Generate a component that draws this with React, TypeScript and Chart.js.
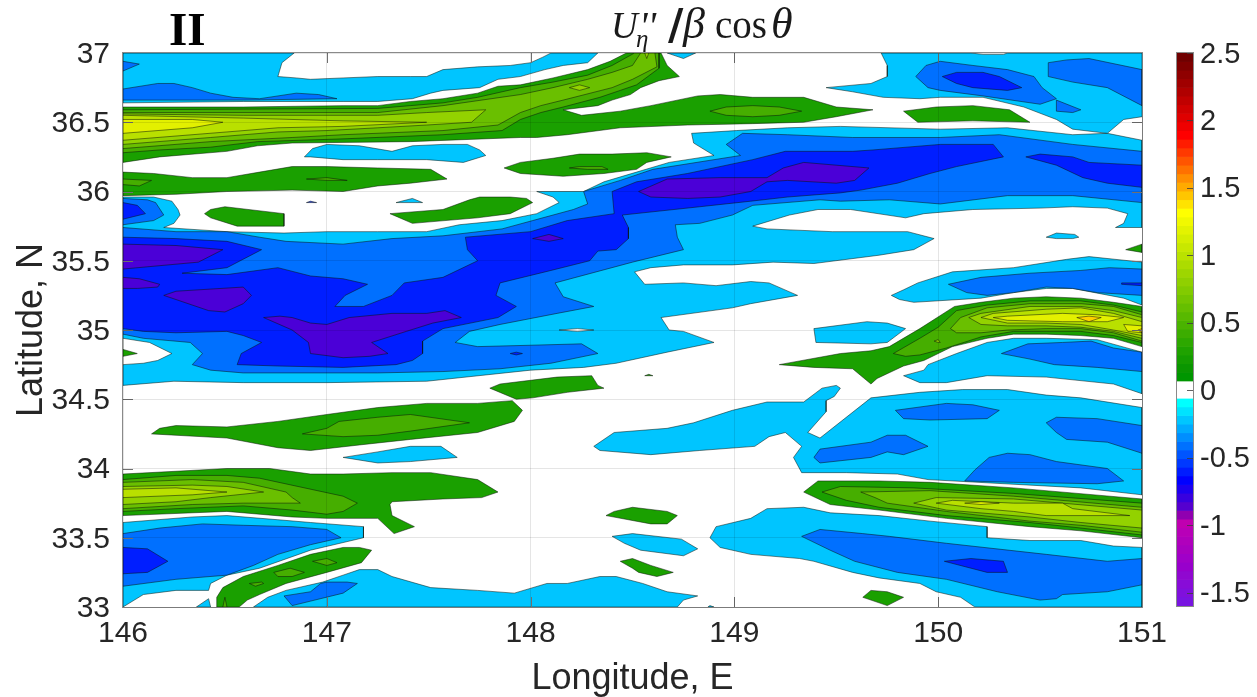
import React, { useEffect, useRef } from "react";
import { Chart, registerables } from "chart.js";

Chart.register(...registerables);

type Ring = number[][];

const lonTicks = [146, 147, 148, 149, 150, 151];
const latTicks = [33, 33.5, 34, 34.5, 35, 35.5, 36, 36.5, 37];
const colorbarTicks = [-1.5, -1, -0.5, 0, 0.5, 1, 1.5, 2, 2.5];
const colorbarEdges = [2.5,2.436,2.372,2.308,2.244,2.18,2.116,2.052,1.988,1.924,1.86,1.796,1.732,1.668,1.604,1.54,1.476,1.412,1.348,1.284,1.22,1.156,1.092,1.028,0.964,0.9,0.836,0.772,0.708,0.644,0.58,0.516,0.452,0.388,0.324,0.26,0.196,0.132,0.068,0.004,-0.06,-0.124,-0.188,-0.252,-0.316,-0.38,-0.444,-0.508,-0.572,-0.636,-0.7,-0.764,-0.828,-0.892,-0.956,-1.02,-1.084,-1.148,-1.212,-1.276,-1.34,-1.404,-1.468,-1.532,-1.6];
const colorbarColors = ["#700000","#7f0000","#8f0000","#a00000","#b00000","#c00000","#d00000","#df0000","#ef0000","#ff0000","#ff1c00","#ff3900","#ff5500","#ff7100","#ff8e00","#ffaa00","#ffc600","#ffe300","#ffff00","#f1f900","#e3f300","#d5ee00","#c8e800","#bae200","#acdc00","#9ed600","#90d000","#82cb00","#74c500","#66bf00","#58b900","#4ab300","#3cad00","#2da800","#1fa200","#149c00","#0a9600","#009600","#ffffff","#ffffff","#00ffff","#00e3ff","#00c6ff","#00aaff","#008eff","#0071ff","#0055ff","#0039ff","#001cff","#0000ff","#1c00ef","#3800df","#5500cf","#9000b0","#c000b0","#b800b8","#b000bc","#a800c0","#a000c8","#9800cc","#9008d0","#880cd8","#8010dc","#7814e0"];

const colorLightBlue = "#00c5ff";
const colorMidBlue = "#0070ff";
const colorDeepBlue = "#001eff";
const colorPurple = "#4b00d7";
const colorGreens = ["#1aa000", "#46ae00", "#6abf00", "#93d200", "#b9e000", "#e3f000", "#ffd000"];

const lightBlueRegions: Ring[] = [
  [[146,37],[146.84,37],[146.78,36.93],[146.76,36.83],[146.85,36.82],[146.92,36.81],[147.08,36.82],[147.25,36.83],[147.41,36.83],[147.49,36.83],[147.57,36.88],[147.74,36.9],[147.9,36.91],[148,36.93],[148.06,36.97],[148.1,37],[148.33,37],[148.28,36.93],[148.16,36.91],[148.07,36.88],[147.95,36.83],[147.84,36.81],[147.75,36.75],[147.57,36.73],[147.51,36.71],[147.42,36.67],[147.25,36.65],[147.08,36.65],[146.59,36.65],[146,36.64]],
  [[146.89,36.25],[146.93,36.31],[147,36.34],[147.16,36.33],[147.32,36.29],[147.42,36.33],[147.57,36.34],[147.69,36.34],[147.75,36.3],[147.78,36.26],[147.67,36.21],[147.49,36.23],[147.25,36.23],[147.08,36.23],[146.92,36.25]],
  [[146,35.96],[146.15,35.96],[146.24,35.93],[146.27,35.87],[146.28,35.83],[146.25,35.77],[146.2,35.74],[146.51,35.71],[146.79,35.7],[147,35.71],[147.25,35.71],[147.49,35.71],[147.65,35.76],[147.86,35.79],[148.03,35.84],[148.14,35.92],[148.11,35.96],[148.03,36],[148.26,36],[148.36,36.07],[148.52,36.14],[148.68,36.21],[148.9,36.26],[148.8,36.35],[148.79,36.42],[149.01,36.44],[149.26,36.46],[149.52,36.47],[150.01,36.45],[150.34,36.46],[150.66,36.41],[150.83,36.42],[151,36.37],[151,35.74],[150.87,35.74],[150.91,35.77],[150.93,35.84],[150.83,35.88],[150.66,35.89],[150.5,35.88],[150.17,35.87],[149.93,35.84],[149.84,35.81],[149.57,35.87],[149.41,35.87],[149.27,35.83],[149.09,35.75],[149.16,35.73],[149.48,35.71],[149.85,35.71],[149.98,35.66],[149.88,35.58],[149.71,35.54],[149.39,35.48],[149.19,35.49],[148.99,35.47],[148.75,35.47],[148.59,35.45],[148.51,35.42],[148.56,35.33],[148.75,35.34],[148.91,35.32],[149.08,35.35],[149.17,35.34],[149.31,35.25],[149.08,35.19],[148.99,35.16],[148.64,35.09],[148.68,35],[148.75,34.99],[148.9,34.91],[148.67,34.84],[148.42,34.76],[148.26,34.73],[148,34.71],[147.49,34.63],[147,34.62],[146.59,34.62],[146.25,34.63],[146,34.6]],
  [[149.72,37],[149.75,36.91],[149.75,36.83],[149.67,36.78],[149.45,36.75],[149.58,36.72],[149.73,36.68],[149.91,36.67],[150.01,36.68],[150.22,36.68],[150.42,36.61],[150.58,36.52],[150.66,36.45],[150.83,36.42],[150.91,36.52],[151,36.54],[151,37],[150.34,37],[150.32,36.99],[150.22,36.99],[150.16,37]],
  [[149.39,35.01],[149.65,35.06],[149.75,35.05],[149.84,35.01],[149.75,34.91],[149.67,34.9],[149.4,34.91]],
  [[149.77,35.25],[149.83,35.29],[149.9,35.34],[150.07,35.42],[150.37,35.45],[150.63,35.51],[150.74,35.53],[151,35.49],[151,35.18],[150.91,35.23],[150.66,35.3],[150.53,35.3],[150.37,35.27],[150.21,35.23],[149.88,35.2],[149.81,35.22]],
  [[150.53,35.67],[150.58,35.7],[150.67,35.69],[150.69,35.67],[150.66,35.66],[150.58,35.66]],
  [[149.83,34.67],[149.93,34.71],[149.95,34.75],[150.09,34.83],[150.24,34.91],[150.37,34.94],[150.53,34.94],[150.78,34.93],[151,34.84],[151,34.54],[150.86,34.61],[150.53,34.66],[150.24,34.67],[150.04,34.62],[149.91,34.62]],
  [[148.31,34.16],[148.41,34.26],[148.67,34.29],[148.8,34.33],[148.99,34.42],[149.16,34.48],[149.34,34.48],[149.43,34.58],[149.5,34.6],[149.52,34.58],[149.49,34.52],[149.45,34.49],[149.45,34.41],[149.36,34.26],[149.42,34.22],[149.67,34.51],[149.91,34.55],[150.12,34.57],[150.34,34.57],[150.53,34.53],[150.7,34.51],[151,34.44],[151,33.81],[150.7,33.86],[149.95,33.92],[149.8,33.96],[149.55,33.97],[149.33,33.97],[149.29,34.08],[149.33,34.16],[149.25,34.26],[149.17,34.23],[149.1,34.16],[148.83,34.13],[148.59,34.1],[148.34,34.13]],
  [[148.88,33.5],[148.91,33.58],[149.08,33.64],[149.16,33.71],[149.34,33.72],[149.47,33.68],[149.71,33.66],[149.96,33.62],[150.24,33.58],[150.24,33.5],[150.45,33.48],[150.7,33.48],[150.86,33.44],[151,33.43],[151,33],[150.18,33],[150.11,33.07],[149.99,33.11],[149.91,33.17],[149.71,33.21],[149.58,33.25],[149.39,33.33],[149.32,33.35],[149.08,33.38],[148.93,33.43]],
  [[148.4,33.51],[148.5,33.53],[148.74,33.49],[148.82,33.42],[148.75,33.37],[148.54,33.41],[148.46,33.46]],
  [[146.64,33],[146.71,33.07],[146.8,33.12],[146.98,33.18],[147.08,33.23],[147.16,33.27],[147.25,33.27],[147.32,33.22],[147.51,33.14],[147.74,33.12],[147.92,33.1],[148.08,33.17],[148.18,33.17],[148.34,33.22],[148.42,33.22],[148.55,33.17],[148.67,33.11],[148.82,33.08],[148.75,33.05],[148.72,33]],
  [[146,33.61],[146.34,33.65],[146.51,33.66],[146.76,33.63],[146.92,33.61],[147.18,33.58],[147.18,33.5],[146.92,33.41],[146.67,33.28],[146.51,33.23],[146.43,33.17],[146.42,33.12],[146.26,33.12],[146.1,33.09],[146,33]],
  [[146.36,33],[146.42,33.06],[146.43,33]],
  [[147.08,34.08],[147.25,34.12],[147.41,34.16],[147.56,34.16],[147.64,34.08],[147.41,34.05],[147.25,34.04]],
  [[147.34,35.92],[147.42,35.95],[147.47,35.92]],
  [[148.67,37],[148.75,36.96],[148.81,37]],
  [[148.87,33],[148.88,33.01],[148.9,33]],
];

const whiteRegions: Ring[] = [
  [[146,34.94],[146.13,34.91],[146.24,34.83],[146.17,34.78],[146.1,34.76],[146,34.75]],
  [[148.14,35],[148.23,35.01],[148.31,35],[148.23,34.99]],
];

const midBlueRegions: Ring[] = [
  [[146,36.94],[146.08,36.92],[146,36.87]],
  [[146,36.71],[146,36.74],[146.17,36.78],[146.25,36.78],[146.34,36.75],[146.43,36.71],[146.54,36.68],[146.67,36.67],[146.85,36.71],[146.96,36.7],[147.05,36.67],[146.59,36.66],[146,36.66]],
  [[146,35.95],[146.12,35.94],[146.16,35.92],[146.2,35.83],[146.15,35.79],[146,35.76]],
  [[146,35.74],[146.26,35.71],[146.51,35.71],[146.67,35.67],[146.8,35.64],[147.08,35.62],[147.32,35.66],[147.57,35.68],[147.86,35.73],[148.01,35.79],[148.21,35.87],[148.28,35.91],[148.26,36],[148.44,36.08],[148.6,36.16],[149.03,36.26],[148.96,36.34],[149.04,36.42],[149.26,36.41],[149.58,36.39],[150.01,36.39],[150.3,36.41],[150.66,36.34],[151,36.29],[151,35.92],[150.66,35.97],[150.34,35.97],[150.01,35.91],[149.76,35.94],[149.52,35.93],[149.42,35.94],[149.09,35.9],[148.99,35.83],[148.83,35.77],[148.71,35.76],[148.72,35.67],[148.75,35.58],[148.5,35.49],[148.12,35.34],[148.16,35.24],[148.31,35.17],[148.13,35.12],[147.85,35.04],[147.7,34.99],[147.63,34.91],[147.74,34.88],[148,34.89],[148.25,34.9],[148.33,34.83],[148.1,34.76],[147.85,34.72],[147.57,34.7],[147.25,34.69],[146.59,34.69],[146.43,34.71],[146.34,34.75],[146.39,34.83],[146.33,34.91],[146.1,34.94],[146,34.97]],
  [[149.89,36.83],[149.94,36.91],[150.01,36.94],[150.17,36.91],[150.34,36.88],[150.47,36.83],[150.51,36.75],[150.58,36.67],[150.5,36.63],[150.22,36.69],[150.01,36.73],[149.95,36.75]],
  [[150.54,36.93],[150.63,36.95],[150.74,36.96],[151,36.88],[151,36.62],[150.83,36.75],[150.66,36.79],[150.54,36.83]],
  [[150.58,36.66],[150.7,36.59],[150.66,36.57],[150.58,36.58]],
  [[150.05,35.33],[150.21,35.38],[150.45,35.41],[150.7,35.43],[150.84,35.45],[151,35.44],[151,35.25],[150.78,35.27],[150.66,35.3],[150.53,35.31],[150.37,35.27],[150.24,35.25],[150.14,35.27]],
  [[150.31,34.83],[150.44,34.9],[150.61,34.91],[150.75,34.92],[150.86,34.87],[151,34.84],[151,34.7],[150.78,34.73],[150.57,34.75],[150.45,34.79]],
  [[149.79,34.42],[150.04,34.47],[150.17,34.46],[150.3,34.42],[150.24,34.36],[149.96,34.35],[149.83,34.36]],
  [[150.53,34.33],[150.58,34.37],[150.78,34.36],[151,34.31],[151,34.11],[150.83,34.19],[150.63,34.21],[150.58,34.26]],
  [[149.39,34.08],[149.42,34.14],[149.67,34.19],[149.75,34.24],[149.84,34.24],[149.95,34.16],[149.83,34.1],[149.75,34.12],[149.67,34.08],[149.42,34.04]],
  [[150.13,33.91],[150.18,33.99],[150.25,34.08],[150.34,34.11],[150.45,34.1],[150.58,34.05],[150.83,34],[150.91,33.91],[150.78,33.89],[150.37,33.9]],
  [[149.33,33.51],[149.42,33.56],[149.63,33.53],[149.76,33.51],[150.04,33.46],[150.53,33.38],[150.83,33.33],[151,33.35],[151,33.16],[150.83,33.11],[150.61,33.09],[150.58,33.06],[150.5,33.05],[150.29,33.11],[150.04,33.2],[149.8,33.25],[149.59,33.33],[149.47,33.41]],
  [[146.79,33.08],[146.92,33.11],[146.97,33.17],[147,33.18],[147.1,33.18],[147.15,33.17],[147.08,33.1],[146.83,33.01]],
  [[146,33.53],[146.18,33.57],[146.39,33.6],[146.59,33.59],[146.83,33.58],[147,33.56],[147.07,33.5],[146.92,33.45],[146.76,33.38],[146.64,33.3],[146.51,33.23],[146.26,33.2],[146,33.15]],
];

const deepBlueRegions: Ring[] = [
  [[146,35.92],[146.07,35.9],[146.11,35.84],[146,35.8]],
  [[146,35.67],[146.26,35.66],[146.51,35.64],[146.68,35.58],[146.51,35.45],[146.29,35.41],[146.51,35.4],[146.76,35.45],[146.92,35.39],[147.08,35.37],[147.2,35.33],[147.09,35.25],[147.04,35.17],[147.18,35.17],[147.32,35.25],[147.38,35.34],[147.57,35.38],[147.74,35.5],[147.69,35.58],[147.68,35.67],[148,35.71],[148.18,35.79],[148.41,35.84],[148.4,36],[148.52,36.07],[148.77,36.13],[149.09,36.23],[149.25,36.29],[149.58,36.29],[149.68,36.3],[150.01,36.34],[150.27,36.34],[150.32,36.25],[150.09,36.18],[149.96,36.13],[149.8,36.06],[149.62,36.01],[149.52,35.99],[149.26,35.96],[149.08,35.93],[148.83,35.89],[148.45,35.83],[148.48,35.74],[148.48,35.66],[148.42,35.58],[148.33,35.57],[148.29,35.5],[148.1,35.43],[147.85,35.34],[147.83,35.25],[147.93,35.17],[147.84,35.09],[147.57,35.01],[147.47,34.92],[147.47,34.83],[147.42,34.78],[147.34,34.75],[147.08,34.73],[146.76,34.74],[146.56,34.75],[146.58,34.83],[146.68,34.91],[146.59,34.96],[146.51,34.99],[146.26,34.98],[146.1,34.99],[146,35.01]],
  [[150.43,36.25],[150.5,36.27],[150.66,36.25],[150.74,36.21],[151,36.19],[151,36.03],[150.83,36.06],[150.71,36.1],[150.58,36.19]],
  [[150.02,36.83],[150.09,36.86],[150.22,36.86],[150.3,36.83],[150.41,36.75],[150.34,36.73],[150.17,36.75],[150.09,36.78]],
  [[150.9,35.34],[151,35.34],[151,35.32],[150.9,35.33]],
  [[150.03,33.33],[150.16,33.35],[150.32,33.33],[150.34,33.25],[150.24,33.25]],
  [[146,33.43],[146.12,33.42],[146.22,33.33],[146.12,33.25],[146,33.24]],
  [[147.9,34.83],[147.93,34.84],[147.96,34.83],[147.93,34.82]],
  [[146.9,35.92],[146.92,35.93],[146.95,35.92]],
];

const purpleRegions: Ring[] = [
  [[148.53,36],[148.67,36.09],[148.93,36.1],[149.16,36.1],[149.24,36.17],[149.34,36.21],[149.66,36.17],[149.59,36.08],[149.5,36.06],[149.26,36.08],[149.16,36.07],[149.08,36],[148.93,35.96],[148.77,35.95],[148.59,35.96]],
  [[148.01,35.66],[148.09,35.69],[148.16,35.66],[148.09,35.64]],
  [[146,35.62],[146.26,35.61],[146.49,35.58],[146.37,35.49],[146,35.44]],
  [[146,35.38],[146.08,35.37],[146.18,35.33],[146.17,35.31],[146.07,35.3],[146,35.3]],
  [[146.2,35.25],[146.26,35.28],[146.59,35.31],[146.63,35.25],[146.59,35.19],[146.5,35.13],[146.42,35.14]],
  [[146.69,35.09],[146.77,35.1],[146.83,35.09],[146.92,35.05],[147,35.04],[147.11,35.09],[147.32,35.12],[147.49,35.12],[147.58,35.14],[147.66,35.09],[147.52,35.05],[147.39,34.99],[147.22,34.91],[147.3,34.83],[147.21,34.81],[147.08,34.8],[146.92,34.83],[146.91,34.91],[146.83,35]],
];

const greenLevel1: Ring[] = [
  [[146,36.61],[146.59,36.61],[147.08,36.62],[147.25,36.62],[147.41,36.65],[147.57,36.67],[147.74,36.71],[147.84,36.76],[147.95,36.77],[148.11,36.82],[148.28,36.88],[148.39,36.94],[148.47,37],[148.64,37],[148.67,36.91],[148.73,36.83],[148.63,36.8],[148.54,36.75],[148.49,36.7],[148.4,36.66],[148.33,36.62],[148.16,36.59],[148.25,36.55],[148.44,36.58],[148.59,36.62],[148.82,36.69],[148.93,36.7],[149.09,36.68],[149.34,36.68],[149.5,36.61],[149.68,36.59],[149.5,36.54],[149.34,36.5],[149.09,36.49],[148.77,36.48],[148.44,36.46],[148.18,36.41],[148.03,36.39],[147.95,36.39],[147.41,36.36],[146.83,36.35],[146.66,36.33],[146.51,36.29],[146.18,36.25],[146,36.21]],
  [[146,36.14],[146.15,36.13],[146.34,36.1],[146.51,36.1],[146.67,36.14],[146.83,36.18],[147,36.18],[147.25,36.17],[147.51,36.16],[147.59,36.09],[147.41,36.06],[147.25,36.04],[147.08,36],[146.83,36.01],[146.51,36],[146.26,35.98],[146,35.97]],
  [[147.87,36.17],[147.95,36.21],[148.11,36.24],[148.24,36.27],[148.4,36.27],[148.57,36.28],[148.69,36.25],[148.57,36.21],[148.52,36.16],[148.36,36.13],[148.16,36.11],[147.95,36.13]],
  [[146,34.86],[146.07,34.83],[146,34.81]],
  [[149.83,36.58],[149.99,36.61],[150.17,36.62],[150.35,36.59],[150.45,36.5],[150.17,36.51],[149.9,36.5]],
  [[150.92,35.58],[151,35.62],[151,35.56]],
  [[149.22,34.75],[149.52,34.83],[149.67,34.85],[149.76,34.88],[149.91,35.01],[150.08,35.17],[150.21,35.2],[150.37,35.23],[150.53,35.24],[150.7,35.23],[150.86,35.2],[151,35.17],[151,34.88],[150.86,34.94],[150.7,34.96],[150.53,34.97],[150.37,34.97],[150.24,34.94],[150.07,34.88],[149.93,34.78],[149.83,34.74],[149.7,34.65],[149.67,34.61],[149.58,34.72],[149.39,34.73]],
  [[149.34,33.83],[149.41,33.91],[149.71,33.91],[149.96,33.9],[150.37,33.86],[151,33.78],[151,33.5],[150.7,33.55],[150.45,33.58],[150.04,33.64],[149.71,33.7],[149.47,33.74]],
  [[149.63,33.07],[149.67,33.12],[149.75,33.11],[149.83,33.07],[149.75,33.01]],
  [[148.37,33.66],[148.41,33.69],[148.5,33.72],[148.67,33.69],[148.72,33.66],[148.67,33.6],[148.59,33.6]],
  [[148.44,33.33],[148.5,33.35],[148.59,33.3],[148.7,33.25],[148.62,33.22],[148.53,33.25],[148.5,33.28]],
  [[146.46,33],[146.46,33.07],[146.49,33.14],[146.59,33.22],[146.76,33.3],[146.92,33.38],[147.08,33.43],[147.16,33.43],[147.22,33.41],[147.17,33.32],[147,33.25],[146.8,33.17],[146.67,33.09],[146.61,33.05],[146.57,33]],
  [[146,33.96],[146.26,33.98],[146.51,34],[146.72,34],[146.92,33.96],[147.08,33.96],[147.32,33.97],[147.51,33.97],[147.74,33.92],[147.84,33.83],[147.76,33.79],[147.57,33.78],[147.32,33.76],[147.31,33.74],[147.32,33.66],[147.43,33.58],[147.33,33.53],[147.25,33.64],[147,33.64],[146.83,33.65],[146.51,33.69],[146,33.66]],
  [[146.14,34.25],[146.18,34.29],[146.26,34.31],[146.51,34.3],[146.76,34.34],[147,34.39],[147.25,34.44],[147.49,34.47],[147.74,34.47],[147.91,34.49],[147.96,34.42],[147.92,34.34],[147.74,34.26],[147.41,34.21],[147.16,34.17],[146.92,34.13],[146.76,34.15],[146.51,34.22],[146.26,34.24]],
  [[147.8,34.58],[147.85,34.61],[148.13,34.66],[148.3,34.67],[148.33,34.6],[148.36,34.58],[148.18,34.55],[148.01,34.51],[147.93,34.5]],
  [[147.31,35.84],[147.57,35.87],[147.7,35.94],[147.75,35.96],[147.9,35.96],[147.98,35.95],[148.01,35.92],[147.9,35.84],[147.74,35.81],[147.42,35.77]],
  [[146.4,35.84],[146.43,35.87],[146.5,35.89],[146.79,35.84],[146.79,35.75],[146.56,35.75],[146.43,35.81]],
  [[148.56,34.67],[148.58,34.68],[148.6,34.67]],
];

const greenLevel2: Ring[] = [
  [[146,36.59],[147.25,36.6],[147.41,36.62],[147.57,36.64],[147.74,36.68],[147.95,36.75],[148.11,36.79],[148.28,36.84],[148.4,36.91],[148.51,37],[148.63,37],[148.63,36.89],[148.52,36.77],[148.44,36.73],[148.34,36.68],[148.16,36.61],[148.05,36.57],[147.95,36.52],[147.86,36.44],[147.57,36.41],[147.08,36.38],[146.66,36.36],[146.43,36.32],[146.18,36.3],[146,36.28]],
  [[148.88,36.58],[148.96,36.61],[149.09,36.62],[149.22,36.61],[149.33,36.58],[149.22,36.55],[149.09,36.54],[148.96,36.55]],
  [[146,36.09],[146.14,36.08],[146.08,36.04],[146,36.05]],
  [[146.9,36.09],[147,36.1],[147.1,36.08],[147,36.08]],
  [[148.19,36.17],[148.24,36.18],[148.35,36.18],[148.38,36.16],[148.28,36.16]],
  [[149.78,34.83],[149.91,34.94],[150,35.02],[150.09,35.14],[150.24,35.18],[150.45,35.21],[150.7,35.21],[150.86,35.18],[151,35.13],[151,34.91],[150.86,34.96],[150.7,34.99],[150.53,34.99],[150.37,34.99],[150.21,34.95],[150.04,34.87],[149.91,34.82],[149.84,34.81]],
  [[149.43,33.83],[149.52,33.87],[149.88,33.86],[150.37,33.82],[151,33.75],[151,33.52],[150.7,33.57],[150.45,33.61],[150.04,33.66],[149.71,33.72],[149.55,33.77]],
  [[146.62,33.17],[146.68,33.18],[146.69,33.17],[146.65,33.15]],
  [[146.74,33.25],[146.82,33.28],[146.89,33.25],[146.83,33.22],[146.76,33.22]],
  [[146.93,33.33],[147,33.35],[147.05,33.32],[147,33.3]],
  [[146.49,33],[146.5,33.07],[146.51,33]],
  [[146,33.92],[146.26,33.95],[146.51,33.95],[146.67,33.93],[147.08,33.8],[147.15,33.75],[147.08,33.69],[147,33.67],[146.83,33.7],[146.59,33.73],[146.26,33.71],[146,33.69]],
  [[146.88,34.25],[147,34.29],[147.06,34.34],[147.25,34.37],[147.41,34.39],[147.7,34.33],[147.41,34.27],[147.25,34.24],[147.08,34.23]],
];

const greenLevel3: Ring[] = [
  [[146,36.57],[147.25,36.57],[147.57,36.62],[147.95,36.7],[148.11,36.75],[148.28,36.81],[148.4,36.86],[148.5,36.91],[148.54,37],[148.61,37],[148.62,36.9],[148.5,36.81],[148.4,36.75],[148.16,36.66],[148.05,36.62],[147.95,36.57],[147.84,36.48],[147.57,36.44],[147.08,36.41],[146.83,36.39],[146.43,36.36],[146,36.31]],
  [[150.06,35.01],[150.11,35.09],[150.24,35.16],[150.45,35.19],[150.7,35.19],[150.86,35.17],[151,35.11],[151,34.92],[150.86,34.98],[150.7,35.01],[150.53,35.01],[150.34,35],[150.21,34.98],[150.09,34.98]],
  [[149.62,33.83],[149.96,33.84],[150.37,33.8],[151,33.72],[151,33.54],[150.7,33.59],[150.45,33.62],[150.04,33.69],[149.75,33.75],[149.69,33.79]],
  [[146,33.9],[146.34,33.92],[146.59,33.9],[146.8,33.83],[146.83,33.79],[146.87,33.75],[146.59,33.75],[146.34,33.74],[146,33.71]],
];

const greenLevel4: Ring[] = [
  [[146,36.56],[146.59,36.55],[147.25,36.55],[147.49,36.57],[147.78,36.59],[147.71,36.5],[147.49,36.48],[147.25,36.46],[147,36.44],[146.76,36.43],[146.43,36.39],[146,36.34]],
  [[148.19,36.75],[148.24,36.77],[148.29,36.75],[148.24,36.73]],
  [[148.56,37],[148.58,37],[148.57,36.96]],
  [[150.15,35.09],[150.21,35.12],[150.45,35.17],[150.7,35.17],[150.86,35.14],[151,35.09],[151,34.94],[150.86,34.99],[150.7,35.02],[150.53,35.03],[150.34,35.03],[150.21,35.04]],
  [[149.98,34.92],[150,34.93],[150.01,34.91],[150,34.91]],
  [[149.88,33.75],[149.99,33.79],[150.37,33.78],[151,33.7],[151,33.57],[150.7,33.61],[150.45,33.65],[150.04,33.7]],
  [[146,33.87],[146.34,33.88],[146.51,33.87],[146.69,33.83],[146.43,33.79],[146.26,33.76],[146,33.74]],
];

const greenLevel5: Ring[] = [
  [[146,36.55],[146.59,36.53],[147.08,36.51],[147.49,36.5],[147.08,36.47],[146.76,36.46],[146.51,36.43],[146,36.37]],
  [[150.21,35.09],[150.27,35.12],[150.53,35.15],[150.7,35.16],[150.86,35.12],[151,35.06],[151,34.96],[150.86,35],[150.7,35.04],[150.53,35.05],[150.34,35.05]],
  [[149.99,33.75],[150.07,33.77],[150.37,33.75],[150.61,33.75],[150.66,33.71],[150.94,33.66],[150.53,33.66],[150.37,33.69],[150.21,33.71]],
  [[146,33.85],[146.26,33.86],[146.51,33.83],[146.34,33.81],[146,33.79]],
];

const greenLevel6: Ring[] = [
  [[146,36.52],[146.34,36.52],[146.49,36.5],[146.34,36.46],[146,36.42]],
  [[150.27,35.09],[150.34,35.1],[150.61,35.12],[150.78,35.11],[150.91,35.09],[150.83,35.06],[150.61,35.06],[150.34,35.07]],
  [[150.91,35.04],[151,35.03],[151,34.98],[150.93,34.99]],
  [[150.13,33.75],[150.21,33.76],[150.3,33.75],[150.21,33.74]],
];

const greenLevel7: Ring[] = [
  [[150.68,35.09],[150.74,35.1],[150.8,35.09],[150.74,35.06]],
  [[150.98,35],[151,35.01],[151,34.98]],
];

const layers: { color: string; rings: Ring[] }[] = [
  { color: colorLightBlue, rings: lightBlueRegions },
  { color: "#ffffff", rings: whiteRegions },
  { color: colorMidBlue, rings: midBlueRegions },
  { color: colorDeepBlue, rings: deepBlueRegions },
  { color: colorPurple, rings: purpleRegions },
  { color: colorGreens[0], rings: greenLevel1 },
  { color: colorGreens[1], rings: greenLevel2 },
  { color: colorGreens[2], rings: greenLevel3 },
  { color: colorGreens[3], rings: greenLevel4 },
  { color: colorGreens[4], rings: greenLevel5 },
  { color: colorGreens[5], rings: greenLevel6 },
  { color: colorGreens[6], rings: greenLevel7 },
];

const AXIS_TEXT = "#262626";
const FRAME = "#8a8a8a";
const SANS = '"Liberation Sans", Arial, sans-serif';
const SERIF = '"Liberation Serif", serif';

const framePlugin = {
  id: "frame",
  afterDatasetsDraw(chart: any) {
    const { ctx, chartArea: a, scales } = chart;
    ctx.save();
    ctx.strokeStyle = "#707070";
    ctx.lineWidth = 1;
    ctx.beginPath();
    for (const v of lonTicks.slice(1, -1)) {
      const x = Math.round(scales.x.getPixelForValue(v)) + 0.5;
      ctx.moveTo(x, a.top); ctx.lineTo(x, a.top + 10);
      ctx.moveTo(x, a.bottom); ctx.lineTo(x, a.bottom - 10);
    }
    for (const v of latTicks.slice(1, -1)) {
      const y = Math.round(scales.y.getPixelForValue(v)) + 0.5;
      ctx.moveTo(a.left, y); ctx.lineTo(a.left + 10, y);
      ctx.moveTo(a.right, y); ctx.lineTo(a.right - 10, y);
    }
    ctx.stroke();
    ctx.strokeStyle = FRAME;
    ctx.strokeRect(a.left - 0.5, a.top - 0.5, a.right - a.left + 1, a.bottom - a.top + 1);
    ctx.restore();
  },
};

const titlePlugin = {
  id: "mathTitle",
  afterDraw(chart: any) {
    const { ctx } = chart;
    const put = (t: string, x: number, y: number, font: string) => {
      ctx.font = font;
      ctx.fillText(t, x, y);
    };
    ctx.save();
    ctx.fillStyle = "#000";
    ctx.textBaseline = "alphabetic";
    ctx.textAlign = "left";
    put("II", 169, 45, `bold 47px ${SERIF}`);
    ctx.fillStyle = "#1a1a1a";
    put("U", 611, 38, `italic 37px ${SERIF}`);
    put("''", 639, 39, `italic 40px ${SERIF}`);
    put("\u03b7", 636, 47, `italic 25px ${SERIF}`);
    put("/", 668, 39, `bold 42px "DejaVu Sans", sans-serif`);
    put("\u03b2", 683, 38, `italic 44px ${SERIF}`);
    put("cos", 715, 38, `39px ${SERIF}`);
    put("\u03b8", 771, 38, `italic 44px ${SERIF}`);
    ctx.restore();
  },
};

const barFramePlugin = {
  id: "barFrame",
  afterDatasetsDraw(chart: any) {
    const { ctx, chartArea: a, scales } = chart;
    ctx.save();
    ctx.strokeStyle = "rgba(60,60,60,0.8)";
    ctx.lineWidth = 1;
    ctx.beginPath();
    for (const v of colorbarTicks) {
      const y = Math.round(scales.y.getPixelForValue(v)) + 0.5;
      ctx.moveTo(a.right, y); ctx.lineTo(a.right - 6, y);
    }
    ctx.stroke();
    ctx.strokeStyle = FRAME;
    ctx.strokeRect(a.left - 0.5, a.top - 0.5, a.right - a.left + 1, a.bottom - a.top + 1);
    ctx.restore();
  },
};

export default function App() {
  const mapRef = useRef<HTMLCanvasElement>(null);
  const barRef = useRef<HTMLCanvasElement>(null);

  useEffect(() => {
    const datasets: any[] = [];
    layers.forEach((layer) => {
      layer.rings.forEach((ring) => {
        datasets.push({
          data: [...ring, ring[0]].map(([x, y]) => ({ x, y })),
          showLine: true,
          tension: 0,
          pointRadius: 0,
          pointHoverRadius: 0,
          borderColor: "rgba(10,20,10,0.85)",
          borderWidth: 0.6,
          backgroundColor: layer.color,
          fill: "shape",
        });
      });
    });
    datasets.reverse();

    const map = new Chart(mapRef.current as HTMLCanvasElement, {
      type: "scatter",
      data: { datasets },
      plugins: [framePlugin, titlePlugin],
      options: {
        animation: false,
        responsive: false,
        events: [],
        layout: { padding: { left: 0, top: 53, right: 115, bottom: 0 } },
        plugins: { legend: { display: false }, tooltip: { enabled: false } },
        scales: {
          x: {
            type: "linear",
            min: 146,
            max: 151,
            afterFit: (s: any) => { s.height = 90; },
            afterBuildTicks: (s: any) => { s.ticks = lonTicks.map((value) => ({ value })); },
            grid: { color: "rgba(0,0,0,0.1)", drawTicks: false, z: 1 },
            border: { display: false },
            ticks: { color: AXIS_TEXT, font: { family: SANS, size: 30 }, padding: 9, maxRotation: 0, callback: (v: any) => String(v) },
            title: { display: true, text: "Longitude, E", color: AXIS_TEXT, font: { family: SANS, size: 36 }, padding: { top: 0, bottom: -4 } },
          },
          y: {
            type: "linear",
            min: 33,
            max: 37,
            afterFit: (s: any) => { s.width = 123; },
            afterBuildTicks: (s: any) => { s.ticks = latTicks.map((value) => ({ value })); },
            grid: { color: "rgba(0,0,0,0.1)", drawTicks: false, z: 1 },
            border: { display: false },
            ticks: { color: AXIS_TEXT, font: { family: SANS, size: 30 }, padding: 13, labelOffset: 1.5, callback: (v: any) => String(v) },
            title: { display: true, text: "Latitude, N", color: AXIS_TEXT, font: { family: SANS, size: 36 }, padding: { top: 10, bottom: 0 } },
          },
        },
      } as any,
    });

    const bar = new Chart(barRef.current as HTMLCanvasElement, {
      type: "bar",
      data: {
        labels: ["colorbar"],
        datasets: colorbarColors.map((color, i) => ({
          data: [[colorbarEdges[i + 1], colorbarEdges[i]]],
          backgroundColor: color,
          borderWidth: 0,
          barPercentage: 1,
          categoryPercentage: 1,
        })) as any,
      },
      plugins: [barFramePlugin],
      options: {
        animation: false,
        responsive: false,
        events: [],
        layout: { padding: { left: 27, top: 53, right: 0, bottom: 91 } },
        plugins: { legend: { display: false }, tooltip: { enabled: false } },
        scales: {
          x: { display: false, stacked: true },
          y: {
            position: "right",
            min: -1.6,
            max: 2.5,
            afterFit: (s: any) => { s.width = 64; },
            afterBuildTicks: (s: any) => { s.ticks = colorbarTicks.map((value) => ({ value })); },
            grid: { display: false, drawTicks: false },
            border: { display: false },
            ticks: { color: AXIS_TEXT, font: { family: SANS, size: 29 }, padding: 7, labelOffset: 1.5, callback: (v: any) => String(v) },
          },
        },
      } as any,
    });

    return () => {
      map.destroy();
      bar.destroy();
    };
  }, []);

  return (
    <div style={{ position: "fixed", left: 0, top: 0, width: 1257, height: 697, background: "#fff", overflow: "hidden" }}>
      <canvas ref={mapRef} width={1257} height={697} style={{ position: "absolute", left: 0, top: 0 }} />
      <canvas ref={barRef} width={107} height={697} style={{ position: "absolute", left: 1150, top: 0 }} />
    </div>
  );
}
